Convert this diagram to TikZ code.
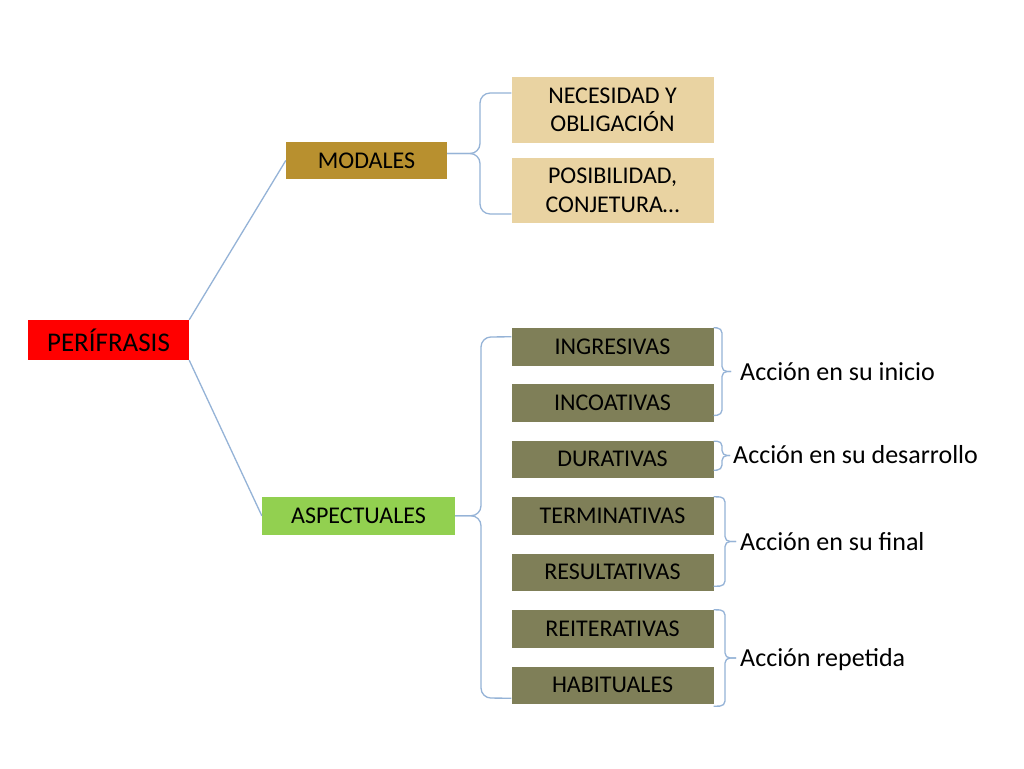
\documentclass[tikz,border=0pt]{standalone}
\usepackage{fontspec}
\setmainfont{Carlito}
\usetikzlibrary{calc}
\definecolor{cred}{HTML}{FF0000}
\definecolor{cgold}{HTML}{B8902F}
\definecolor{ctan}{HTML}{E9D3A2}
\definecolor{cgreen}{HTML}{92D050}
\definecolor{colive}{HTML}{7F7F58}
\definecolor{cline}{HTML}{95B3D7}
\tikzset{
  bx/.style={rectangle, draw=none, inner sep=0pt, text=black,
    font=\fontsize{24}{28.5}\selectfont, align=center},
  olivebox/.style={bx, fill=colive, minimum width=202pt, minimum height=37.5pt},
  tanbox/.style={bx, fill=ctan, minimum width=202pt, minimum height=65.5pt},
  conn/.style={draw=cline, line width=1.3pt},
  lbrace/.style={conn, rounded corners=10pt},
  rbrace/.style={conn, rounded corners=5pt},
  lab/.style={font=\fontsize{26}{30}\selectfont, anchor=base west, inner sep=0pt, text=black}
}
\begin{document}
\begin{tikzpicture}[x=1pt, y=-1pt]
\useasboundingbox[fill=white] (0,0) rectangle (1024,768);

% main nodes
\node[bx, fill=cred, minimum width=161pt, minimum height=40pt,
      font=\fontsize{27}{30}\selectfont] (per) at (108.5,340) {PERÍFRASIS};
\node[bx, fill=cgold, minimum width=161pt, minimum height=37.5pt] (mod) at (366.5,160.5) {MODALES};
\node[bx, fill=cgreen, minimum width=193pt, minimum height=37.5pt] (asp) at (358.5,515.75) {ASPECTUALES};

% modales children
\node[tanbox] (nec) at (612.5,110) {NECESIDAD Y\\OBLIGACIÓN};
\node[tanbox] (pos) at (612.5,190.5) {POSIBILIDAD,\\CONJETURA…};

% aspectuales children
\node[olivebox] (ing) at (612.5,346.75) {INGRESIVAS};
\node[olivebox] (inc) at (612.5,403.0) {INCOATIVAS};
\node[olivebox] (dur) at (612.5,459.25) {DURATIVAS};
\node[olivebox] (ter) at (612.5,515.75) {TERMINATIVAS};
\node[olivebox] (res) at (612.5,572.25) {RESULTATIVAS};
\node[olivebox] (rei) at (612.5,628.75) {REITERATIVAS};
\node[olivebox] (hab) at (612.5,685.25) {HABITUALES};

% labels
\node[lab] (l1) at (740,380.3) {Acción en su inicio};
\node[lab] (l2) at (733,463.8) {Acción en su desarrollo};
\node[lab] (l3) at (740,550.0) {Acción en su final};
\node[lab] (l4) at (740,666.5) {Acción repetida};

% brace tips
\coordinate (t1) at (731,371.5);
\coordinate (t2) at (730,455.5);
\coordinate (t3) at (736,541.5);
\coordinate (t4) at (736,658);

% connectors from root
\draw[conn] (per.north east) -- (mod.west);
\draw[conn] (per.south east) -- (asp.west);

% left brace: modales
\draw[lbrace] ($(mod.east)+(0,-7)$) -- (480,153.5) -- (480,93) -- ($(nec.north west)+(0,16)$);
\draw[lbrace] ($(mod.east)+(0,-7)$) -- (480,153.5) -- (480,214) -- ($(pos.south west)+(0,-9.5)$);

% left brace: aspectuales
\draw[lbrace] (asp.east) -- (481,515.75) -- (481,337) -- ($(ing.north west)+(0,9)$);
\draw[lbrace] (asp.east) -- (481,515.75) -- (481,698) -- ($(hab.south west)+(0,-6)$);

% right braces
\draw[rbrace] (ing.north east) -- (722,328) -- (722,371.5) -- (t1);
\draw[rbrace] ($(inc.south east)+(0,-6.5)$) -- (722,415) -- (722,371.5) -- (t1);

\draw[rbrace] ($(dur.north east)+(0,1)$) -- (722,441) -- (722,455.5) -- (t2);
\draw[rbrace] ($(dur.south east)+(0,-8)$) -- (722,470) -- (722,455.5) -- (t2);

\draw[rbrace] (ter.north east) -- (725,497) -- (725,541.5) -- (t3);
\draw[rbrace] ($(res.south east)+(0,-5)$) -- (725,586) -- (725,541.5) -- (t3);

\draw[rbrace] (rei.north east) -- (725,610) -- (725,658) -- (t4);
\draw[rbrace] ($(hab.south east)+(0,2)$) -- (725,706) -- (725,658) -- (t4);
\end{tikzpicture}
\end{document}
